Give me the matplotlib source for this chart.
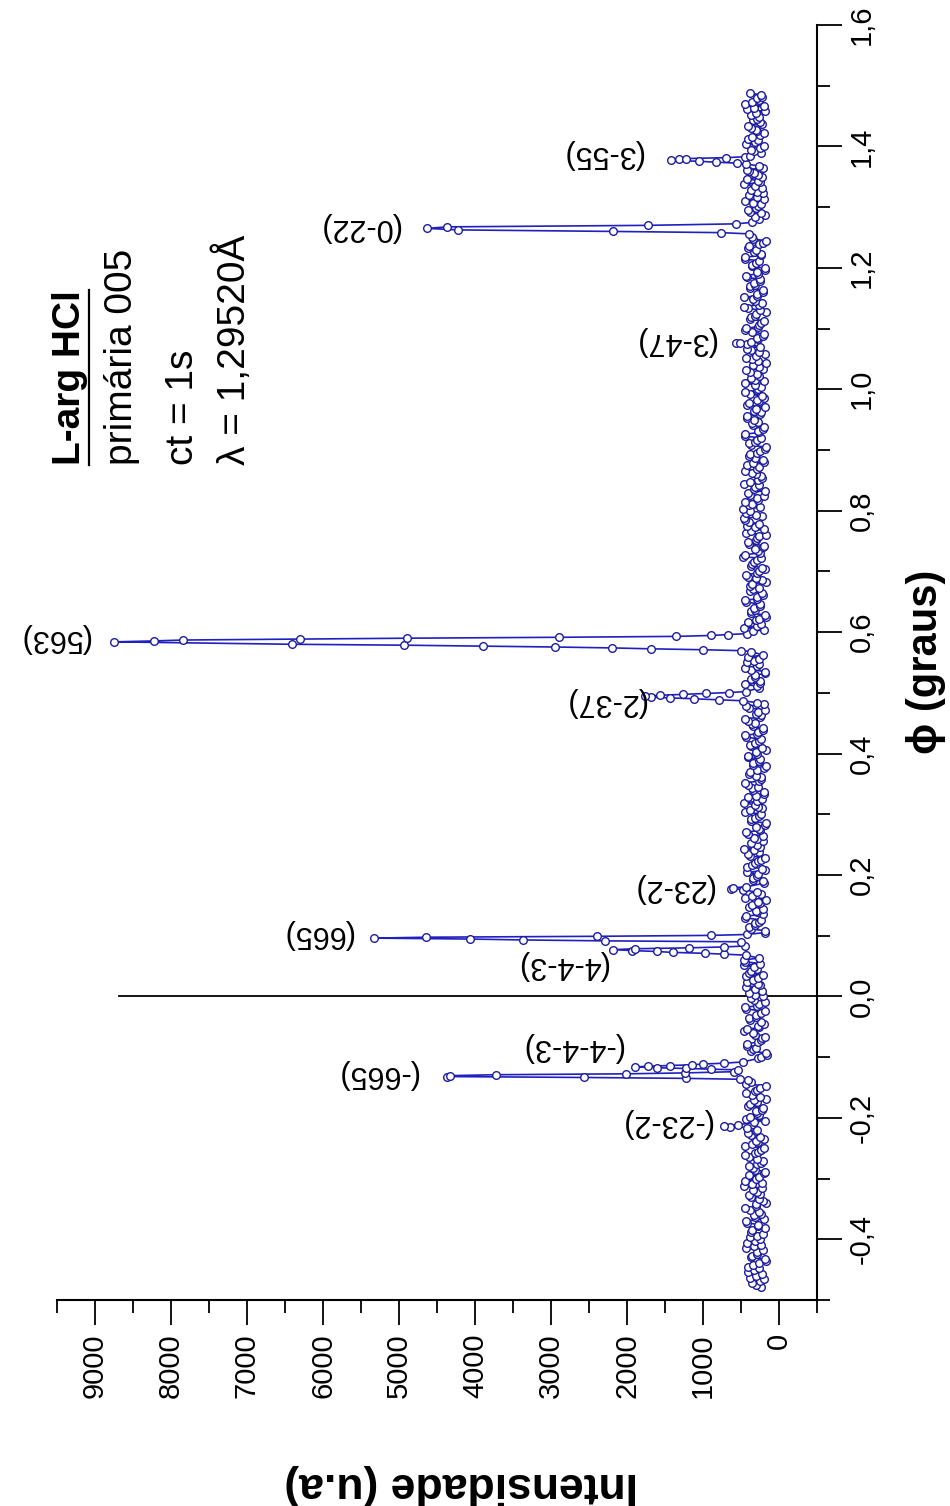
import numpy as np
import matplotlib.pyplot as plt
from matplotlib.ticker import MultipleLocator, FuncFormatter
from matplotlib.lines import Line2D

plt.rcParams['font.family'] = ['Liberation Sans', 'DejaVu Sans']

# baseline counts of the phi scan (u.a) - first pass
base_int = [
    232, 355, 198, 301, 402, 260, 338, 176, 365, 285, 214, 330, 421, 247, 296, 372,
    189, 278, 436, 312, 241, 380, 305, 167, 266, 398, 290, 222, 351, 447, 259, 203,
    318, 389, 236, 284, 453, 271, 194, 361, 307, 248, 412, 283, 181, 329, 440, 262,
    297, 209, 386, 325, 244, 431, 287, 172, 368, 256, 340, 457, 221, 295, 376, 238,
    169, 344, 419, 279, 230, 313, 462, 268, 199, 383, 302, 243, 428, 286, 178, 364,
    310, 226, 437, 270, 336, 430, 392, 291, 455, 448, 264, 205, 350, 415, 237, 401,
    288, 183, 374, 322, 258, 444, 213, 306, 393, 249, 171, 358, 285, 426, 267, 216,
    347, 281, 186, 419, 311, 234, 387, 263, 466, 292, 207, 333, 409, 251, 299, 174,
    371, 266, 441, 219, 315, 284, 403, 192, 345, 273, 452, 240, 297, 382, 201, 338,
    257, 414, 290, 177, 369, 318, 231, 446, 272, 212, 352, 408, 254, 301, 180, 433,
    293, 348, 215, 378, 262, 450, 246, 316, 188, 366, 287, 421, 259, 206, 397, 323,
    239, 459, 276, 342, 196, 294, 413, 265, 181, 372, 327, 250, 443, 285, 224, 345,
    381, 173, 297, 437, 268, 229, 358, 290, 468, 255, 319, 197, 406, 287, 168, 370,
    320, 261, 448, 218, 430, 470, 395, 452, 296, 384, 190, 313, 456, 270, 233, 352,
    286, 425, 202, 321, 379, 253, 171, 399, 295, 441, 266, 208, 346, 281, 416, 244,
    333, 185, 389, 288, 227, 451, 270, 312, 196, 367, 286, 434, 257, 176, 355, 301,
    267, 418, 235, 341, 292, 193, 447, 279, 240, 385, 318, 169, 404, 260, 314, 463,
    284, 207, 377, 324, 248, 428, 289, 182, 359, 266, 449, 233, 302, 392, 210, 336,
    258, 445, 291, 176, 365, 320, 241, 410, 276, 343, 199, 396, 288, 230, 458, 280,
    221, 335, 419, 262, 297, 178, 384, 326, 245, 437, 273, 351, 203, 309, 407, 254,
    290, 371, 187, 330, 444, 268, 225, 383,
]
# second pass over the same range
base_int_b = [
    301, 244, 378, 219, 335, 407, 262, 188, 356, 290, 431, 237, 312, 383, 205, 349,
    272, 418, 193, 327, 260, 442, 298, 215, 374, 251, 339, 461, 226, 303, 392, 180,
    345, 283, 211, 396, 317, 240, 452, 271, 197, 366, 308, 425, 254, 186, 379, 296,
    229, 411, 287, 174, 358, 322, 246, 438, 265, 201, 384, 333, 219, 405, 277, 160,
    362, 298, 425, 237, 189, 347, 416, 274, 231, 389, 305, 178, 443, 261, 328, 210,
    389, 312, 255, 421, 280, 206, 370, 331, 245, 459, 268, 194, 356, 300, 412, 227,
    266, 184, 398, 315, 241, 432, 287, 212, 361, 279, 448, 234, 319, 387, 203, 340,
    295, 427, 218, 356, 272, 190, 406, 326, 249, 373, 291, 215, 439, 263, 180, 364,
    318, 241, 385, 279, 455, 226, 307, 197, 352, 414, 268, 236, 394, 289, 171, 347,
    256, 408, 301, 223, 379, 261, 436, 285, 207, 343, 318, 452, 239, 274, 391, 198,
    335, 270, 192, 417, 296, 248, 369, 310, 183, 442, 262, 325, 405, 227, 289, 360,
    212, 384, 277, 339, 455, 231, 298, 176, 362, 316, 251, 428, 285, 204, 376, 268,
    349, 223, 410, 290, 186, 368, 330, 243, 447, 270, 209, 391, 302, 258, 435, 195,
    421, 398, 462, 303, 387, 246, 352, 279, 195, 413, 331, 261, 381, 224, 308, 442,
    257, 336, 214, 395, 287, 178, 369, 312, 240, 451, 278, 203, 357, 325, 416, 236,
    301, 419, 265, 192, 378, 290, 233, 446, 318, 260, 388, 211, 341, 275, 430, 184,
    364, 247, 399, 281, 216, 354, 436, 269, 193, 375, 306, 248, 459, 221, 337, 290,
    205, 382, 314, 254, 426, 276, 188, 361, 297, 441, 232, 328, 403, 259, 177, 350,
    292, 224, 410, 345, 263, 181, 388, 302, 237, 452, 286, 215, 367, 321, 247, 418,
    270, 393, 206, 331, 280, 445, 238, 362, 195, 319, 407, 256, 283, 374, 219, 340,
    263, 305, 422, 198, 357, 289, 243,
]
base_phi = np.linspace(-0.478, 1.488, len(base_int))
base_phi_b = np.linspace(-0.475, 1.485, len(base_int_b))

# reflections: phi (graus) and counts of each sharp peak
peak_names = ["(-23-2)", "(-665)", "(-4-4-3)", "(4-4-3)", "(665)", "(23-2)",
              "(2-37)", "(563)", "(3-47)", "(0-22)", "(3-55)"]
peak_phi = [
    [-0.216, -0.2145, -0.213, -0.2115],
    [-0.138, -0.1365, -0.135, -0.1335, -0.132, -0.1305, -0.129, -0.1275, -0.126, -0.124],
    [-0.121, -0.1198, -0.1186, -0.1174, -0.1162, -0.115, -0.1138, -0.1126, -0.1114, -0.110, -0.108],
    [0.068, 0.0695, 0.071, 0.0725, 0.074, 0.0755, 0.077, 0.0785, 0.080, 0.0815, 0.083],
    [0.090, 0.0915, 0.093, 0.0945, 0.096, 0.0975, 0.099, 0.1005, 0.102],
    [0.176, 0.1775, 0.179, 0.1805],
    [0.487, 0.4885, 0.490, 0.4915, 0.493, 0.4945, 0.496, 0.4975, 0.499, 0.5005, 0.502],
    [0.568, 0.5695, 0.571, 0.5725, 0.574, 0.5755, 0.577, 0.5785, 0.580, 0.584,
     0.5855, 0.587, 0.5885, 0.590, 0.5915, 0.593, 0.5945, 0.596, 0.5975],
    [1.074, 1.0755, 1.077, 1.0785],
    [1.256, 1.258, 1.260, 1.2625, 1.265, 1.2675, 1.270, 1.2725, 1.275],
    [1.371, 1.3725, 1.374, 1.3755, 1.377, 1.3785, 1.380, 1.3815, 1.383, 1.385],
]
peak_int = [
    [420, 640, 720, 540],
    [410, 510, 1220, 2570, 4370, 4330, 3730, 2010, 1240, 590],
    [540, 900, 1230, 1610, 1890, 1730, 1430, 1140, 1000, 720, 480],
    [440, 720, 980, 1400, 1610, 1930, 2180, 1900, 1190, 720, 450],
    [500, 2290, 3370, 4060, 5330, 4650, 2400, 900, 420],
    [470, 630, 600, 430],
    [480, 790, 1120, 1430, 1690, 1760, 1560, 1260, 960, 660, 440],
    [370, 500, 1000, 1680, 2200, 2950, 3890, 4940, 6410, 8750,
     8230, 7840, 6300, 4900, 2900, 1350, 890, 670, 420],
    [420, 560, 510, 370],
    [400, 760, 2190, 4220, 4630, 4370, 1730, 560, 350],
    [430, 550, 830, 1050, 1415, 1310, 1220, 700, 450, 380],
]
# where each label sits (intensity, phi)
label_int = [1480, 5280, 2730, 2860, 6070, 1390, 2290, 9540, 1360, 5520, 2320]
label_phi = [-0.209, -0.128, -0.084, 0.051, 0.102, 0.178, 0.485, 0.590, 1.079, 1.268, 1.387]

info_lines = ["L-arg HCl", "primária 005", "ct = 1s", "λ = 1,29520Å"]

# merge scan: drop baseline points that fall inside a peak window
bphi = np.concatenate([base_phi, base_phi_b])
bint = np.concatenate([base_int, base_int_b])
keep = np.ones(len(bphi), dtype=bool)
for ph in peak_phi:
    keep &= ~((bphi >= min(ph) - 0.003) & (bphi <= max(ph) + 0.003))
all_phi = np.concatenate([bphi[keep]] + [np.array(p) for p in peak_phi])
all_int = np.concatenate([bint[keep]] + [np.array(v) for v in peak_int])
order = np.argsort(all_phi)
all_phi = all_phi[order]
all_int = all_int[order]

fig = plt.figure(figsize=(9.5, 15.06), dpi=100)
ax = fig.add_axes([0.06, 0.1368, 0.8, 0.8466])

ax.plot(all_int, all_phi, color='#2020c0', lw=1.2, marker='o', ms=5.5,
        mfc='white', mec='#1c1c9c', mew=1.0, zorder=3)
ax.plot([8680, -500], [0, 0], color='black', lw=1.3, zorder=2)

ax.set_xlim(9500, -500)
ax.set_ylim(-0.5, 1.6)

for s in ['left', 'top']:
    ax.spines[s].set_visible(False)
for s in ['right', 'bottom']:
    ax.spines[s].set_linewidth(1.5)
ax.yaxis.tick_right()

ax.xaxis.set_major_locator(MultipleLocator(1000))
ax.xaxis.set_minor_locator(MultipleLocator(500))
ax.yaxis.set_major_locator(MultipleLocator(0.2))
ax.yaxis.set_minor_locator(MultipleLocator(0.1))
ax.yaxis.set_major_formatter(FuncFormatter(lambda v, p: f"{v:.1f}".replace('.', ',')))

ax.tick_params(which='major', length=18, width=1.3, direction='out', pad=6, labelsize=21)
ax.tick_params(which='minor', length=9, width=1.3, direction='out')
ax.tick_params(axis='x', labelrotation=90)
ax.tick_params(axis='y', labelrotation=90, pad=4)
for lb in ax.get_yticklabels():
    lb.set_va('center')

for name, xi, yi in zip(peak_names, label_int, label_phi):
    ax.text(xi, yi, name, rotation=180, ha='center', va='center', fontsize=22)

info_x = [9330, 8650, 7840, 7180]
info_texts = []
for i, (line, xi) in enumerate(zip(info_lines, info_x)):
    t = ax.text(xi, 0.875, line, rotation=90, ha='center', va='bottom', fontsize=28,
                fontweight='bold' if i == 0 else 'normal')
    info_texts.append(t)

fig.text(461 / 950, 1 - 1485 / 1506, "Intensidade (u.a)", rotation=180,
         ha='center', va='center', fontsize=32, fontweight='bold')
fig.text(926 / 950, 1 - 662 / 1506, "ϕ (graus)", rotation=90,
         ha='center', va='center', fontsize=30, fontweight='bold')

# underline the sample name
fig.canvas.draw()
bb = info_texts[0].get_window_extent(fig.canvas.get_renderer())
W, H = fig.canvas.get_width_height()
ux = (bb.x1 + 1) / W
fig.add_artist(Line2D([ux, ux], [bb.y0 / H, bb.y1 / H], color='black', lw=1.6))

fig.savefig('out.png', dpi=100)
